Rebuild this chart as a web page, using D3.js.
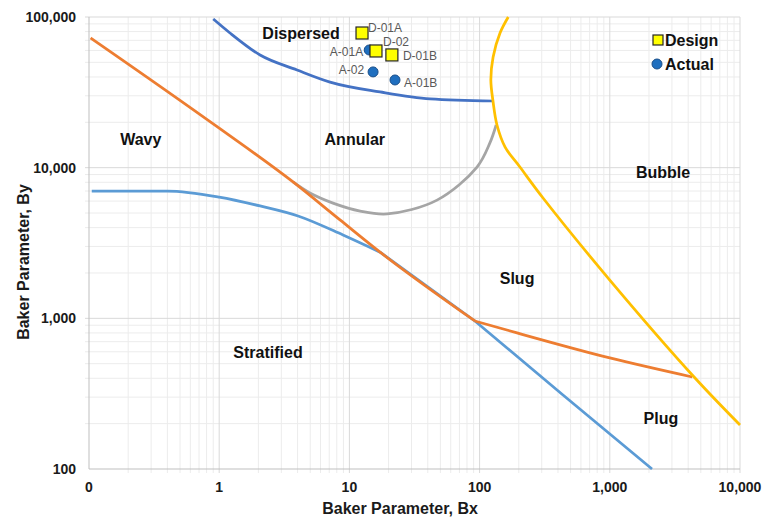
<!DOCTYPE html>
<html>
<head>
<meta charset="utf-8">
<script src="https://cdn.jsdelivr.net/npm/d3@7/dist/d3.min.js"></script>
<style>
  body { margin: 0; background: #fff; }
  svg { display: block; font-family: "Liberation Sans", Arial, sans-serif; }
</style>
</head>
<body>
<svg id="chart" width="766" height="519"></svg>
<script>
// boundary curves of the Baker map, [Bx, By]
const wavyUpper = [[0.103, 72600], [1, 18300], [3.69, 8040], [8.47, 4500], [17.2, 2750], [92, 960]];
const wavyLower = [[92, 960], [194, 800], [1000, 546], [4300, 408]];
const stratifiedUpper = [[0.105, 7000], [0.4, 7000], [1, 6380], [2.06, 5570], [4.03, 4780], [8.93, 3575], [17.2, 2750]];
const stratifiedLower = [[17.2, 2750], [92, 960], [437, 310], [2110, 100]];
const dispersedBoundary = [[0.9, 97000], [1.21, 78300], [2.06, 55900], [3.96, 44500], [7.1, 37000], [17.2, 31800], [41.6, 28600], [127, 27700]];
const annularBoundary = [[3.69, 8040], [4.98, 6790], [7.48, 5820], [12.1, 5150], [19.5, 4930], [47.1, 6090], [95.5, 10100], [120, 14600], [134, 19200]];
const bubbleBoundary = [[166, 100000], [143.5, 78300], [127, 54300], [122, 38200], [127, 27300], [136, 19200], [157, 13700], [204, 10100], [307, 6290], [1000, 1795], [4440, 408], [10000, 196]];

// design and actual operating points
const designNames = ["D-01A", "D-02", "D-01B"];
const designBx = [12.5, 16.0, 21.2];
const designBy = [78300, 59500, 56000];
const actualNames = ["A-01A", "A-02", "A-01B"];
const actualBx = [14.2, 15.2, 22.4];
const actualBy = [60400, 43200, 38200];

const regimeNames = ["Dispersed", "Wavy", "Annular", "Bubble", "Slug", "Stratified", "Plug"];
const regimeBx = [4.25, 0.25, 11, 2565, 194, 2.37, 2470];
const regimeBy = [78300, 15300, 15300, 9360, 1850, 598, 218];

const xTickValues = [0.1, 1, 10, 100, 1000, 10000];
const xTickLabels = ["0", "1", "10", "100", "1,000", "10,000"];
const yTickValues = [100, 1000, 10000, 100000];
const yTickLabels = ["100", "1,000", "10,000", "100,000"];

const svg = d3.select("#chart");
const margin = { left: 89, right: 26, top: 17, bottom: 50 };
const width = 766, height = 519;

const x = d3.scaleLog().domain([0.1, 10000]).range([margin.left, width - margin.right]);
const y = d3.scaleLog().domain([100, 100000]).range([height - margin.bottom, margin.top]);

// minor values for grid
const minorX = [];
for (let e = -1; e < 4; e++) for (let m = 2; m < 10; m++) minorX.push(m * Math.pow(10, e));
const minorY = [];
for (let e = 2; e < 5; e++) for (let m = 2; m < 10; m++) minorY.push(m * Math.pow(10, e));

const grid = svg.append("g");
grid.selectAll(".mx").data(minorX).enter().append("line")
    .attr("x1", d => x(d)).attr("x2", d => x(d))
    .attr("y1", y(100000)).attr("y2", y(100) + 4)
    .attr("stroke", "#ececec").attr("stroke-width", 1);
grid.selectAll(".my").data(minorY).enter().append("line")
    .attr("x1", x(0.1) - 4).attr("x2", x(10000))
    .attr("y1", d => y(d)).attr("y2", d => y(d))
    .attr("stroke", "#ececec").attr("stroke-width", 1);
grid.selectAll(".Mx").data(xTickValues.slice(1)).enter().append("line")
    .attr("x1", d => x(d)).attr("x2", d => x(d))
    .attr("y1", y(100000)).attr("y2", y(100) + 4)
    .attr("stroke", "#d9d9d9").attr("stroke-width", 1);
grid.selectAll(".My").data(yTickValues.slice(1)).enter().append("line")
    .attr("x1", x(0.1) - 4).attr("x2", x(10000))
    .attr("y1", d => y(d)).attr("y2", d => y(d))
    .attr("stroke", "#d9d9d9").attr("stroke-width", 1);

// axes lines
svg.append("line")
    .attr("x1", x(0.1)).attr("x2", x(10000)).attr("y1", y(100)).attr("y2", y(100))
    .attr("stroke", "#bfbfbf");
svg.append("line")
    .attr("x1", x(0.1)).attr("x2", x(0.1)).attr("y1", y(100)).attr("y2", y(100000))
    .attr("stroke", "#bfbfbf");

// tick labels
svg.selectAll(".xl").data(xTickValues).enter().append("text")
    .attr("x", d => x(d)).attr("y", y(100) + 23)
    .attr("text-anchor", "middle")
    .attr("font-size", 14).attr("font-weight", "bold").attr("fill", "#1a1a1a")
    .text((d, i) => xTickLabels[i]);
svg.selectAll(".yl").data(yTickValues).enter().append("text")
    .attr("x", x(0.1) - 13).attr("y", d => y(d)).attr("dy", "0.35em")
    .attr("text-anchor", "end")
    .attr("font-size", 14).attr("font-weight", "bold").attr("fill", "#1a1a1a")
    .text((d, i) => yTickLabels[i]);

// axis titles
svg.append("text")
    .attr("x", 400).attr("y", 514)
    .attr("text-anchor", "middle")
    .attr("font-size", 16).attr("font-weight", "bold").attr("fill", "#1a1a1a")
    .text("Baker Parameter, Bx");
svg.append("text")
    .attr("transform", "translate(29,262) rotate(-90)")
    .attr("text-anchor", "middle")
    .attr("font-size", 16).attr("font-weight", "bold").attr("fill", "#1a1a1a")
    .text("Baker Parameter, By");

// boundary lines
const lineOf = curve => d3.line()
    .x(d => x(d[0]))
    .y(d => y(d[1]))
    .curve(curve);

const curves = [
    { data: stratifiedUpper, color: "#5b9bd5", curve: d3.curveMonotoneX },
    { data: stratifiedLower, color: "#5b9bd5", curve: d3.curveLinear },
    { data: annularBoundary, color: "#a5a5a5", curve: d3.curveCatmullRom.alpha(0.5) },
    { data: wavyUpper, color: "#ed7d31", curve: d3.curveMonotoneX },
    { data: wavyLower, color: "#ed7d31", curve: d3.curveMonotoneX },
    { data: dispersedBoundary, color: "#4472c4", curve: d3.curveMonotoneX },
    { data: bubbleBoundary, color: "#ffc000", curve: d3.curveCatmullRom.alpha(0.5) }
];
svg.selectAll(".curve").data(curves).enter().append("path")
    .attr("fill", "none")
    .attr("stroke", d => d.color)
    .attr("stroke-width", 2.75)
    .attr("stroke-linejoin", "round")
    .attr("d", d => lineOf(d.curve)(d.data));

// regime labels
svg.selectAll(".regime").data(regimeNames).enter().append("text")
    .attr("x", (d, i) => x(regimeBx[i])).attr("y", (d, i) => y(regimeBy[i]))
    .attr("dy", "0.35em")
    .attr("text-anchor", "middle")
    .attr("font-size", 16).attr("font-weight", "bold").attr("fill", "#111")
    .text(d => d);

// design points
const design = designNames.map((n, i) => ({ name: n, bx: designBx[i], by: designBy[i] }));
const actual = actualNames.map((n, i) => ({ name: n, bx: actualBx[i], by: actualBy[i] }));

svg.selectAll(".act").data(actual).enter().append("circle")
    .attr("cx", d => x(d.bx)).attr("cy", d => y(d.by))
    .attr("r", 5)
    .attr("fill", "#1f6fbf").attr("stroke", "#1a4f8a").attr("stroke-width", 1);

svg.selectAll(".des").data(design).enter().append("rect")
    .attr("x", d => x(d.bx) - 6).attr("y", d => y(d.by) - 6)
    .attr("width", 12).attr("height", 12)
    .attr("fill", "#ffff00").attr("stroke", "#262626").attr("stroke-width", 1.2);

// point labels
const designLabelDx = [6, 7, 11];
const designLabelDy = [-5, -9, 1];
const actualLabelDx = [-6, -9, 9];
const actualLabelDy = [2, -2, 3];
svg.selectAll(".dl").data(design).enter().append("text")
    .attr("x", (d, i) => x(d.bx) + designLabelDx[i])
    .attr("y", (d, i) => y(d.by) + designLabelDy[i])
    .attr("dy", "0.35em")
    .attr("font-size", 12).attr("fill", "#595959")
    .text(d => d.name);
svg.selectAll(".al").data(actual).enter().append("text")
    .attr("x", (d, i) => x(d.bx) + actualLabelDx[i])
    .attr("y", (d, i) => y(d.by) + actualLabelDy[i])
    .attr("dy", "0.35em")
    .attr("text-anchor", (d, i) => actualLabelDx[i] < 0 ? "end" : "start")
    .attr("font-size", 12).attr("fill", "#595959")
    .text(d => d.name);

// legend
const legend = svg.append("g").attr("transform", "translate(658,40)");
legend.append("rect")
    .attr("x", -5).attr("y", -5).attr("width", 10).attr("height", 10)
    .attr("fill", "#ffff00").attr("stroke", "#262626").attr("stroke-width", 1.2);
legend.append("text")
    .attr("x", 7).attr("y", 0).attr("dy", "0.35em")
    .attr("font-size", 16).attr("font-weight", "bold").attr("fill", "#111")
    .text("Design");
legend.append("circle")
    .attr("cx", -1).attr("cy", 24).attr("r", 5)
    .attr("fill", "#1f6fbf").attr("stroke", "#1a4f8a");
legend.append("text")
    .attr("x", 7).attr("y", 24).attr("dy", "0.35em")
    .attr("font-size", 16).attr("font-weight", "bold").attr("fill", "#111")
    .text("Actual");
</script>
</body>
</html>
